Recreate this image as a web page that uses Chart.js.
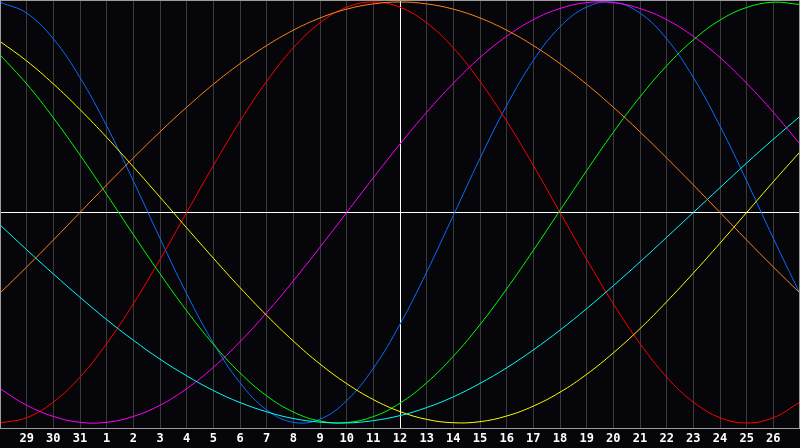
<!DOCTYPE html>
<html>
<head>
<meta charset="utf-8">
<script src="https://cdn.jsdelivr.net/npm/chart.js@4"></script>
<style>
  html, body { margin: 0; padding: 0; background: #060509; }
  #wrap { width: 800px; height: 448px; }
</style>
</head>
<body>
<div id="wrap"><canvas id="bioChart" width="800" height="448"></canvas></div>
<script>
// day labels, one per column (first and last sit on the frame and are not shown)
let days = ['28', '29', '30', '31', '1', '2', '3', '4', '5', '6', '7', '8', '9', '10', '11',
  '12', '13', '14', '15', '16', '17', '18', '19', '20', '21', '22', '23', '24', '25', '26', '27'];
let today = '12';

// values, one per day (-1 .. 1)
let physical = [0.999, 0.947, 0.825, 0.641, 0.411, 0.150, -0.123, -0.386, -0.620, -0.809, -0.938,
  -0.997, -0.982, -0.894, -0.740, -0.531, -0.283, -0.014, 0.257, 0.508, 0.722,
  0.882, 0.976, 0.999, 0.947, 0.825, 0.641, 0.411, 0.150, -0.123, -0.386];
let emotional = [-1.000, -0.975, -0.901, -0.782, -0.623, -0.434, -0.223, 0.000, 0.223, 0.434, 0.623,
  0.782, 0.901, 0.975, 1.000, 0.975, 0.901, 0.782, 0.623, 0.434, 0.223,
  0.000, -0.223, -0.434, -0.623, -0.782, -0.901, -0.975, -1.000, -0.975, -0.901];
let intellectual = [0.749, 0.611, 0.450, 0.273, 0.086, -0.105, -0.291, -0.467, -0.626, -0.762, -0.871,
  -0.948, -0.991, -0.998, -0.970, -0.906, -0.809, -0.683, -0.533, -0.363, -0.180,
  0.010, 0.199, 0.381, 0.549, 0.697, 0.820, 0.914, 0.974, 0.999, 0.988];
let intuitive = [-0.837, -0.916, -0.969, -0.997, -0.997, -0.969, -0.916, -0.837, -0.736, -0.614, -0.476,
  -0.325, -0.165, 0.000, 0.165, 0.325, 0.476, 0.614, 0.736, 0.837, 0.916,
  0.969, 0.997, 0.997, 0.969, 0.916, 0.837, 0.736, 0.614, 0.476, 0.325];
let aesthetic = [0.813, 0.720, 0.611, 0.489, 0.357, 0.217, 0.073, -0.073, -0.217, -0.357, -0.489,
  -0.611, -0.720, -0.813, -0.889, -0.946, -0.983, -0.999, -0.994, -0.967, -0.920,
  -0.854, -0.769, -0.667, -0.552, -0.424, -0.288, -0.146, 0.000, 0.146, 0.288];
let awareness = [-0.383, -0.259, -0.131, 0.000, 0.131, 0.259, 0.383, 0.500, 0.609, 0.707, 0.793,
  0.866, 0.924, 0.966, 0.991, 1.000, 0.991, 0.966, 0.924, 0.866, 0.793,
  0.707, 0.609, 0.500, 0.383, 0.259, 0.131, 0.000, -0.131, -0.259, -0.383];
let spiritual = [-0.059, -0.177, -0.292, -0.403, -0.509, -0.607, -0.697, -0.776, -0.846, -0.903, -0.947,
  -0.979, -0.996, -1.000, -0.989, -0.965, -0.927, -0.876, -0.812, -0.738, -0.653,
  -0.559, -0.457, -0.348, -0.235, -0.118, 0.000, 0.118, 0.235, 0.348, 0.457];

function line(label, data, color) {
  return {
    label: label,
    data: data,
    borderColor: color,
    borderWidth: 1,
    pointRadius: 0,
    tension: 0.4,
    fill: false
  };
}

// frame + white crosshair (today / zero line)
const framePlugin = {
  id: 'frame',
  beforeDatasetsDraw(chart) {
    const { ctx, chartArea: a, scales } = chart;
    const x = Math.round(scales.x.getPixelForValue(days.indexOf(today))) + 0.5;
    const y = Math.round(scales.y.getPixelForValue(0)) + 0.5;
    ctx.save();
    ctx.strokeStyle = '#ffffff';
    ctx.lineWidth = 1;
    ctx.beginPath();
    ctx.moveTo(x, a.top);
    ctx.lineTo(x, a.bottom);
    ctx.moveTo(a.left, y);
    ctx.lineTo(a.right, y);
    ctx.stroke();
    ctx.restore();
  },
  afterDatasetsDraw(chart) {
    const { ctx, chartArea: a } = chart;
    ctx.save();
    ctx.strokeStyle = '#9c9c9c';
    ctx.lineWidth = 1;
    ctx.strokeRect(a.left + 0.5, a.top + 0.5, a.right - a.left - 1, a.bottom - a.top);
    ctx.restore();
  }
};

const ctx = document.getElementById('bioChart');
let chart = new Chart(ctx, {
  type: 'line',
  data: {
    labels: days,
    datasets: [
      line('Awareness', awareness, '#ff8418'),
      line('Spiritual', spiritual, '#00ffff'),
      line('Aesthetic', aesthetic, '#ffff00'),
      line('Intellectual', intellectual, '#00ff00'),
      line('Intuitive', intuitive, '#ff00ff'),
      line('Emotional', emotional, '#ff0000'),
      line('Physical', physical, '#0a6cff')
    ]
  },
  options: {
    responsive: false,
    devicePixelRatio: 1,
    animation: false,
    layout: { padding: 0 },
    plugins: {
      legend: { display: false },
      tooltip: { enabled: false }
    },
    scales: {
      x: {
        type: 'category',
        offset: false,
        border: { display: false },
        grid: { color: '#3a3a3a', lineWidth: 1, drawTicks: false },
        ticks: {
          color: '#ffffff',
          font: { family: 'DejaVu Sans Mono', weight: 'bold', size: 12 },
          padding: 4,
          autoSkip: false,
          maxRotation: 0,
          callback: function(value, index) {
            if (index === 0 || index === days.length - 1) return null;
            return days[index];
          }
        },
        afterFit: function(scale) { scale.height = 20; }
      },
      y: {
        display: false,
        min: -1.024,
        max: 1.0095
      }
    }
  },
  plugins: [framePlugin]
});
</script>
</body>
</html>
